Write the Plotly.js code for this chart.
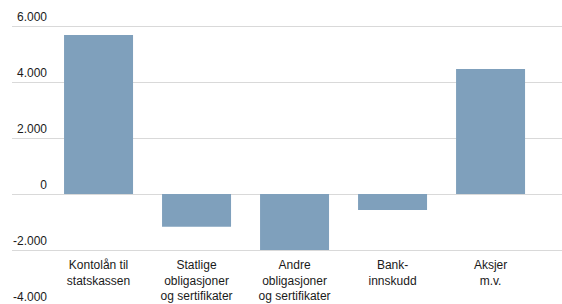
<!DOCTYPE html>
<html>
<head>
<meta charset="utf-8">
<script src="https://cdn.plot.ly/plotly-3.0.1.min.js"></script>
<style>
html, body { margin:0; padding:0; background:#fff; }
#wrap { width:562px; height:304px; overflow:hidden; position:relative; }
#chart { width:562px; height:312px; }
</style>
</head>
<body>
<div id="wrap"><div id="chart"></div></div>
<script>
const categories = ["Kontolån til<br>statskassen", "Statlige<br>obligasjoner<br>og sertifikater", "Andre<br>obligasjoner<br>og sertifikater", "Bank-<br>innskudd", "Aksjer<br>m.v."];
const values = [5680, -1170, -2000, -570, 4460];
const yTickVals = [6000, 4000, 2000, 0, -2000, -4000];
const yTickText = ["6.000", "4.000", "2.000", "0", "-2.000", "-4.000"];

const trace = {
  type: 'bar',
  x: [0,1,2,3,4],
  y: values,
  marker: { color: '#7fa0bc', line: { width: 0 } },
  hoverinfo: 'none'
};

const layout = {
  width: 562, height: 312,
  margin: { l: 12, r: 0, t: 0, b: 4 },
  paper_bgcolor: '#fff', plot_bgcolor: '#fff',
  showlegend: false,
  bargap: 0.296,
  font: { family: 'Liberation Sans, Arial, sans-serif', size: 12, color: '#1a1a1a' },
  xaxis: {
    range: [-0.883, 4.729],
    tickmode: 'array', tickvals: [0,1,2,3,4], ticktext: categories,
    showgrid: false, zeroline: false, showline: false, ticks: '',
    anchor: 'free', position: 0.1883,
    ticklabelstandoff: 6,
    tickfont: { size: 12, color: '#1a1a1a' },
    automargin: false, fixedrange: true
  },
  yaxis: {
    range: [-4071.4, 6928.6],
    tickmode: 'array', tickvals: yTickVals, ticktext: yTickText,
    showgrid: true, gridcolor: '#d9d9d9', gridwidth: 1,
    zeroline: false, showline: false, ticks: '',
    ticklabelstandoff: -36, ticklabelshift: -9,
    tickfont: { size: 12, color: '#1a1a1a' },
    automargin: false, fixedrange: true
  }
};

Plotly.newPlot('chart', [trace], layout, { staticPlot: true, displayModeBar: false });
</script>
</body>
</html>
